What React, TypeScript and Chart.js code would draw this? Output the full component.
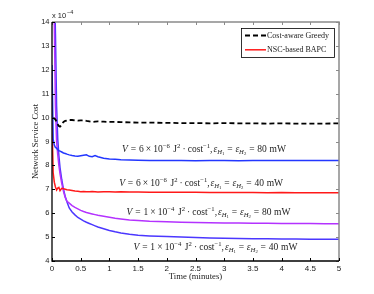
import React, { useEffect, useRef } from "react";
import { Chart, registerables } from "chart.js";

Chart.register(...registerables);

// ---- data (cost in units of 1e-4) ----
const timeMinutes = [
  0, 0.02, 0.04, 0.06, 0.08, 0.1, 0.12, 0.14, 0.17, 0.2, 0.23, 0.26, 0.3, 0.35, 0.4, 0.45, 0.5,
  0.55, 0.6, 0.65, 0.7, 0.75, 0.8, 0.9, 1.0, 1.1, 1.2, 1.35, 1.5, 1.7, 2.0, 2.25, 2.5, 2.75, 3.0,
  3.25, 3.5, 3.75, 4.0, 4.25, 4.5, 4.75, 5.0,
];

const greedyCost = [
  null, 9.98, 9.97, 9.92, 9.82, 9.72, 9.65, 9.62, 9.7, 9.82, 9.86, 9.88, 9.9, 9.9, 9.88, 9.87, 9.88,
  9.89, 9.86, 9.84, 9.82, 9.83, 9.84, 9.83, 9.82, 9.82, 9.81, 9.8, 9.79, 9.79, 9.78, 9.77, 9.77, 9.76, 9.77,
  9.76, 9.76, 9.75, 9.76, 9.75, 9.75, 9.75, 9.76,
];

const bapcV6e6P80 = [
  12.2, 9.1, 8.85, 8.75, 8.72, 8.66, 8.62, 8.6, 8.56, 8.52, 8.5, 8.47, 8.44, 8.41, 8.39, 8.38, 8.4,
  8.42, 8.44, 8.38, 8.36, 8.41, 8.36, 8.3, 8.27, 8.26, 8.24, 8.23, 8.22, 8.21, 8.2, 8.2, 8.19, 8.2, 8.2,
  8.19, 8.2, 8.2, 8.21, 8.2, 8.2, 8.21, 8.2,
];

const bapcV6e6P40 = [
  9.9, 7.7, 7.3, 7.1, 6.97, 7.05, 7.08, 6.94, 7.04, 7.02, 7.0, 6.98, 6.97, 6.95, 6.93, 6.92, 6.9,
  6.91, 6.9, 6.9, 6.91, 6.9, 6.89, 6.9, 6.9, 6.89, 6.9, 6.89, 6.89, 6.88, 6.88, 6.88, 6.88, 6.87, 6.87,
  6.87, 6.87, 6.86, 6.87, 6.86, 6.86, 6.86, 6.86,
];

const bapcV1e4P80 = [
  18, 17, 14, 10.5, 9.0, 8.45, 8.0, 7.65, 7.25, 6.92, 6.66, 6.5, 6.42, 6.32, 6.24, 6.18, 6.12,
  6.07, 6.03, 6.0, 5.97, 5.94, 5.91, 5.87, 5.83, 5.79, 5.76, 5.72, 5.69, 5.66, 5.64, 5.62, 5.61, 5.6, 5.59,
  5.59, 5.58, 5.58, 5.57, 5.57, 5.57, 5.56, 5.56,
];

const bapcV1e4P40 = [
  18, 17.5, 16, 13.5, 10.5, 9.1, 8.4, 7.9, 7.4, 7.0, 6.7, 6.48, 6.22, 6.05, 5.93, 5.82, 5.75,
  5.68, 5.62, 5.57, 5.52, 5.47, 5.42, 5.35, 5.28, 5.22, 5.17, 5.12, 5.08, 5.05, 5.02, 5.0, 4.98, 4.96, 4.95,
  4.94, 4.93, 4.93, 4.92, 4.92, 4.91, 4.91, 4.91,
];

const seriesLabels = [
  "Cost-aware Greedy",
  "NSC-based BAPC (V=6e-6, 80 mW)",
  "NSC-based BAPC",
  "NSC-based BAPC (V=1e-4, 80 mW)",
  "NSC-based BAPC (V=1e-4, 40 mW)",
];
const legendNames = ["Cost-aware Greedy", "NSC-based BAPC"];

// annotation texts
const annMantissa = ["6", "6", "1", "1"];
const annExponent = ["\u22126", "\u22126", "\u22124", "\u22124"];
const annPower = ["80", "40", "80", "40"];

// annotation anchors (data coords: minutes, cost)
const annotationAnchors = [
  { x: 1.22, y: 8.56 },
  { x: 1.17, y: 7.14 },
  { x: 1.3, y: 5.92 },
  { x: 1.42, y: 4.46 },
];

const SERIF = '"Liberation Serif", "DejaVu Serif", serif';
const SANS = '"Liberation Sans", Arial, sans-serif';

type Seg = { t?: string; gap?: number; it?: boolean; lvl?: number };

function buildSegs(i: number): Seg[] {
  return [
    { t: "V", it: true },
    { gap: 0.3 }, { t: "=" }, { gap: 0.3 },
    { t: annMantissa[i] }, { gap: 0.22 }, { t: "\u00d7" }, { gap: 0.22 },
    { t: "10" }, { t: annExponent[i], lvl: 1 },
    { gap: 0.38 }, { t: "J" }, { t: "2", lvl: 1 }, { gap: 0.22 }, { t: "\u00b7" }, { gap: 0.22 },
    { t: "cost" }, { t: "\u22121", lvl: 1 }, { t: "," }, { gap: 0.1 },
    { t: "\u03b5", it: true }, { t: "H", it: true, lvl: -1 }, { t: "1", lvl: -2 },
    { gap: 0.3 }, { t: "=" }, { gap: 0.3 },
    { t: "\u03b5", it: true }, { t: "H", it: true, lvl: -1 }, { t: "2", lvl: -2 },
    { gap: 0.3 }, { t: "=" }, { gap: 0.3 },
    { t: annPower[i] }, { gap: 0.28 }, { t: "mW" },
  ];
}

function drawRich(ctx: CanvasRenderingContext2D, segs: Seg[], x: number, y: number, size: number) {
  let cx = x;
  ctx.textAlign = "left";
  ctx.textBaseline = "alphabetic";
  for (const s of segs) {
    if (s.gap) {
      cx += s.gap * size;
      continue;
    }
    const lvl = s.lvl || 0;
    const fs = lvl === 0 ? size : Math.abs(lvl) === 1 ? size * 0.7 : size * 0.5;
    const dy = lvl === 1 ? -size * 0.42 : lvl === -1 ? size * 0.2 : lvl === -2 ? size * 0.32 : 0;
    ctx.font = `${s.it ? "italic " : ""}${fs}px ${SERIF}`;
    ctx.fillText(s.t || "", cx, y + dy);
    cx += ctx.measureText(s.t || "").width;
  }
}

const decorPlugin = {
  id: "decor",
  afterDraw(chart: any) {
    const ctx: CanvasRenderingContext2D = chart.ctx;
    const ca = chart.chartArea;
    const xs = chart.scales.x;
    const ys = chart.scales.y;
    ctx.save();

    // frame
    ctx.lineWidth = 1.5;
    ctx.strokeStyle = "#8a8a8a";
    ctx.beginPath();
    ctx.moveTo(ca.left, ca.top);
    ctx.lineTo(ca.right, ca.top);
    ctx.lineTo(ca.right, ca.bottom);
    ctx.stroke();
    // inward ticks top/right
    ctx.lineWidth = 1;
    ctx.beginPath();
    for (const t of xs.ticks) {
      const px = Math.round(xs.getPixelForValue(t.value)) + 0.5;
      ctx.moveTo(px, ca.top);
      ctx.lineTo(px, ca.top + 3);
    }
    for (const t of ys.ticks) {
      const py = Math.round(ys.getPixelForValue(t.value)) + 0.5;
      ctx.moveTo(ca.right, py);
      ctx.lineTo(ca.right - 3, py);
    }
    ctx.stroke();

    ctx.strokeStyle = "#000";
    ctx.lineWidth = 1.3;
    ctx.beginPath();
    ctx.moveTo(ca.left, ca.top);
    ctx.lineTo(ca.left, ca.bottom);
    ctx.lineTo(ca.right, ca.bottom);
    ctx.stroke();
    ctx.lineWidth = 1;
    ctx.beginPath();
    for (const t of xs.ticks) {
      const px = Math.round(xs.getPixelForValue(t.value)) + 0.5;
      ctx.moveTo(px, ca.bottom);
      ctx.lineTo(px, ca.bottom - 3);
    }
    for (const t of ys.ticks) {
      const py = Math.round(ys.getPixelForValue(t.value)) + 0.5;
      ctx.moveTo(ca.left, py);
      ctx.lineTo(ca.left + 3, py);
    }
    ctx.stroke();

    // exponent label
    ctx.fillStyle = "#222";
    ctx.textAlign = "left";
    ctx.textBaseline = "alphabetic";
    ctx.font = `7.5px ${SANS}`;
    ctx.fillText("x 10", ca.left, ca.top - 4);
    const w = ctx.measureText("x 10").width;
    ctx.font = `5.5px ${SANS}`;
    ctx.fillText("\u22124", ca.left + w + 0.8, ca.top - 8);

    // annotations
    ctx.fillStyle = "#222";
    annotationAnchors.forEach((a, i) => {
      drawRich(ctx, buildSegs(i), xs.getPixelForValue(a.x), ys.getPixelForValue(a.y), 9.5);
    });

    // legend
    const legendIdx = [0, 2];
    const bw = 93;
    const bh = 29;
    const bx = ca.right - 5 - bw;
    const by = ca.top + 6;
    ctx.fillStyle = "#fff";
    ctx.fillRect(bx, by, bw, bh);
    ctx.strokeStyle = "#000";
    ctx.lineWidth = 0.8;
    ctx.strokeRect(bx + 0.5, by + 0.5, bw, bh);
    legendIdx.forEach((di, k) => {
      const ds = chart.data.datasets[di];
      const ry = by + 7.5 + k * 14.3;
      ctx.save();
      ctx.strokeStyle = ds.borderColor;
      ctx.lineWidth = ds.borderWidth;
      ctx.setLineDash(ds.borderDash || []);
      ctx.beginPath();
      ctx.moveTo(bx + 4, ry);
      ctx.lineTo(bx + 25, ry);
      ctx.stroke();
      ctx.restore();
      ctx.fillStyle = "#222";
      ctx.font = `8px ${SERIF}`;
      ctx.textBaseline = "middle";
      ctx.textAlign = "left";
      ctx.fillText(legendNames[k], bx + 26, ry);
    });

    ctx.restore();
  },
};

export default function App() {
  const ref = useRef<HTMLCanvasElement | null>(null);
  useEffect(() => {
    if (!ref.current) return;
    const mk = (vals: (number | null)[]) => timeMinutes.map((t, i) => ({ x: t, y: vals[i] }));
    const chart = new Chart(ref.current, {
      type: "line",
      data: {
        datasets: [
          {
            label: seriesLabels[0],
            data: mk(greedyCost),
            borderColor: "#000",
            borderWidth: 1.8,
            borderDash: [5, 3],
            pointRadius: 0,
          },
          {
            label: seriesLabels[1],
            data: mk(bapcV6e6P80),
            borderColor: "rgb(35,55,255)",
            borderWidth: 1.5,
            pointRadius: 0,
          },
          {
            label: seriesLabels[2],
            data: mk(bapcV6e6P40),
            borderColor: "rgb(255,25,25)",
            borderWidth: 1.5,
            pointRadius: 0,
          },
          {
            label: seriesLabels[3],
            data: mk(bapcV1e4P80),
            borderColor: "rgb(180,50,255)",
            borderWidth: 1.5,
            pointRadius: 0,
          },
          {
            label: seriesLabels[4],
            data: mk(bapcV1e4P40),
            borderColor: "rgb(75,55,255)",
            borderWidth: 1.5,
            pointRadius: 0,
          },
        ] as any,
      },
      options: {
        responsive: false,
        animation: false,
        devicePixelRatio: 1,
        layout: { padding: { left: 0, right: 35, top: 22, bottom: 0 } },
        plugins: { legend: { display: false }, tooltip: { enabled: false } },
        scales: {
          x: {
            type: "linear",
            min: 0,
            max: 5,
            ticks: {
              stepSize: 0.5,
              padding: 3,
              color: "#222",
              font: { family: SANS, size: 8 },
              maxRotation: 0,
              callback: (v: any) => String(Number(v)),
            },
            grid: { display: false, drawTicks: false },
            border: { display: false },
            title: {
              display: true,
              text: "Time (minutes)",
              color: "#222",
              font: { family: SERIF, size: 8.7 },
              padding: { top: 0, bottom: 12.3 },
            },
            afterFit: (s: any) => {
              s.height = 33;
            },
          },
          y: {
            type: "linear",
            min: 4,
            max: 14,
            ticks: { stepSize: 1, padding: 2.5, color: "#222", font: { family: SANS, size: 7.5 } },
            grid: { display: false, drawTicks: false },
            border: { display: false },
            title: {
              display: true,
              text: "Network Service Cost",
              color: "#222",
              font: { family: SERIF, size: 8.5 },
              padding: { top: 31, bottom: 0 },
            },
            afterFit: (s: any) => {
              s.width = 52;
            },
          },
        },
      } as any,
      plugins: [decorPlugin],
    });
    return () => chart.destroy();
  }, []);
  return (
    <div style={{ position: "fixed", left: 0, top: 0, width: 374, height: 294, background: "#fff" }}>
      <canvas ref={ref} width={374} height={294} style={{ display: "block" }} />
    </div>
  );
}
